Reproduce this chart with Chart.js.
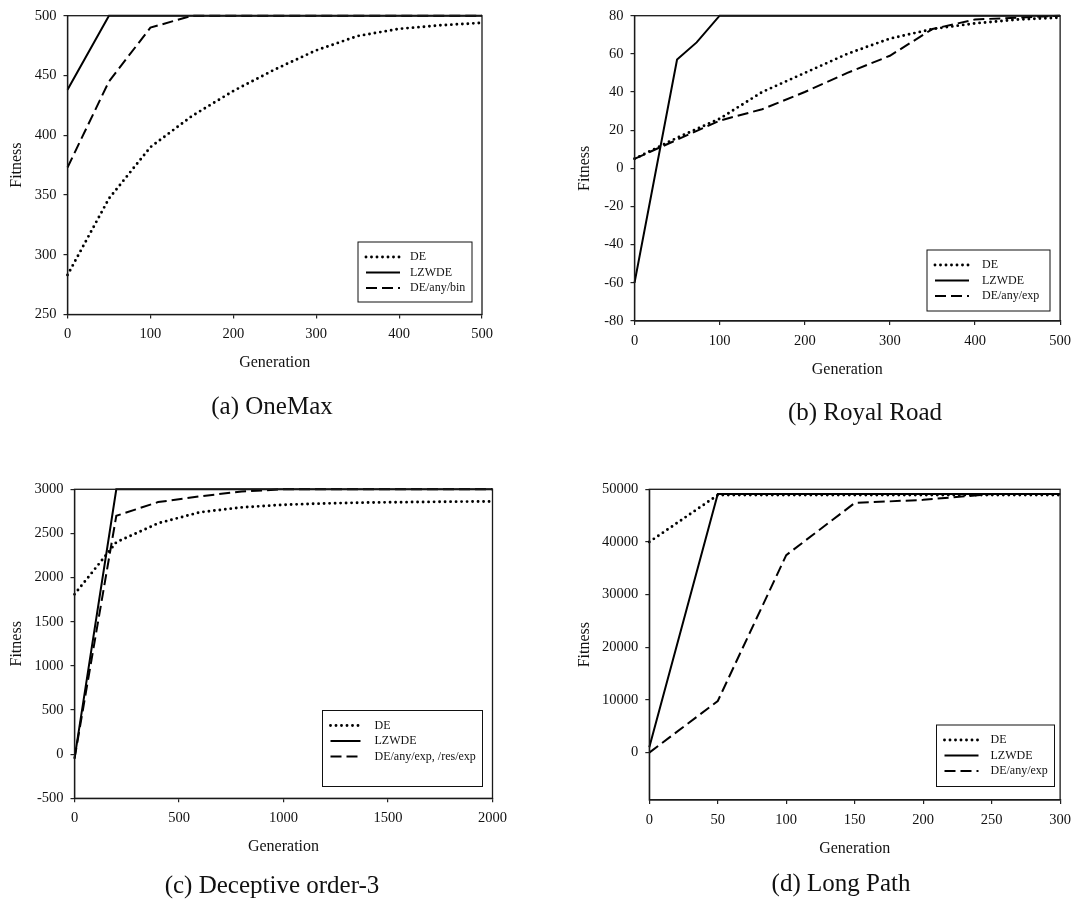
<!DOCTYPE html>
<html>
<head>
<meta charset="utf-8">
<title>Fitness vs Generation</title>
<script src="https://cdn.jsdelivr.net/npm/chart.js@4.4.1/dist/chart.umd.min.js"></script>
<style>
  html, body { margin: 0; padding: 0; background: #fff; }
  #wrap { position: relative; width: 1078px; height: 911px; }
  #wrap canvas { position: absolute; left: 0; top: 0; }
</style>
</head>
<body>
<div id="wrap">
  <canvas id="oneMax" width="1078" height="911"></canvas>
  <canvas id="royalRoad" width="1078" height="911"></canvas>
  <canvas id="deceptive" width="1078" height="911"></canvas>
  <canvas id="longPath" width="1078" height="911"></canvas>
</div>
<script>
// ---- data ----
const oneMaxGen = [0, 50, 100, 150, 200, 250, 300, 350, 400, 450, 500];
const oneMaxDE = [283, 347, 390, 416, 437, 455, 471, 483, 489, 492, 494];
const oneMaxLZWDE = [438, 500, 500, 500, 500, 500, 500, 500, 500, 500, 500];
const oneMaxAnyBin = [373, 445, 490, 500, 500, 500, 500, 500, 500, 500, 500];
const oneMaxXTicks = [0, 100, 200, 300, 400, 500];
const oneMaxYTicks = [250, 300, 350, 400, 450, 500];

const royalGen = [0, 50, 100, 150, 200, 250, 300, 350, 400, 450, 500];
const royalDE = [5, 16, 26, 40, 50, 60, 68, 73, 76, 78, 79];
const royalLZWDEGen = [0, 50, 73, 100, 500];
const royalLZWDE = [-60, 57, 66, 80, 80];
const royalAnyExp = [5, 15, 25, 31, 40, 50, 59, 73, 78, 79, 80];
const royalXTicks = [0, 100, 200, 300, 400, 500];
const royalYTicks = [-80, -60, -40, -20, 0, 20, 40, 60, 80];

const decGen = [0, 200, 400, 600, 800, 1000, 1200, 1400, 1600, 1800, 2000];
const decDE = [1810, 2400, 2615, 2740, 2795, 2825, 2840, 2850, 2855, 2860, 2862];
const decLZWDE = [-50, 3000, 3000, 3000, 3000, 3000, 3000, 3000, 3000, 3000, 3000];
const decAnyExp = [-50, 2700, 2855, 2920, 2975, 3000, 3000, 3000, 3000, 3000, 3000];
const decXTicks = [0, 500, 1000, 1500, 2000];
const decYTicks = [-500, 0, 500, 1000, 1500, 2000, 2500, 3000];

const longGen = [0, 50, 100, 150, 200, 250, 300];
const longDE = [40000, 48900, 48900, 48900, 48900, 48900, 48900];
const longLZWDE = [1000, 49100, 49100, 49100, 49100, 49100, 49100];
const longAnyExp = [0, 9800, 37500, 47400, 48000, 49100, 49100];
const longXTicks = [0, 50, 100, 150, 200, 250, 300];
const longYTicks = [0, 10000, 20000, 30000, 40000, 50000];

const FONT = "'Liberation Serif', 'Times New Roman', serif";
const INK = '#111';

// line styles: dotted, solid, dashed
const lineStyles = [
  { borderDash: [0, 5.5], borderCapStyle: 'round', borderWidth: 2.9 },
  { borderDash: [], borderCapStyle: 'butt', borderWidth: 2 },
  { borderDash: [11, 5], borderCapStyle: 'butt', borderWidth: 2 }
];

const toPoints = (xs, ys) => xs.map((x, i) => ({ x: x, y: ys[i] }));

const panelDecor = {
  id: 'panelDecor',
  afterDraw(chart, args, o) {
    const ctx = chart.ctx;
    const a = chart.chartArea;
    ctx.save();
    ctx.strokeStyle = '#1a1a1a';
    ctx.lineWidth = 1.3;
    ctx.strokeRect(a.left, a.top, a.right - a.left, a.bottom - a.top);

    // legend box
    const lg = o.legend;
    ctx.fillStyle = '#fff';
    ctx.fillRect(lg.left, lg.top, lg.width, lg.height);
    ctx.lineWidth = 1;
    ctx.strokeStyle = '#111';
    ctx.strokeRect(lg.left, lg.top, lg.width, lg.height);
    ctx.font = '12px ' + FONT;
    ctx.textAlign = 'left';
    ctx.textBaseline = 'middle';
    chart.data.datasets.forEach((ds, i) => {
      const y = lg.top + lg.rowTop + i * lg.rowGap;
      ctx.save();
      ctx.setLineDash(ds.borderDash || []);
      ctx.lineCap = ds.borderCapStyle || 'butt';
      ctx.lineWidth = ds.borderWidth;
      ctx.strokeStyle = ds.borderColor;
      ctx.beginPath();
      ctx.moveTo(lg.left + lg.sampleX, y);
      ctx.lineTo(lg.left + lg.sampleX + lg.sampleLen, y);
      ctx.stroke();
      ctx.restore();
      ctx.fillStyle = INK;
      ctx.fillText(ds.label, lg.left + lg.textX, y);
    });

    // axis titles and caption
    ctx.fillStyle = INK;
    ctx.textAlign = 'center';
    ctx.textBaseline = 'middle';
    ctx.font = '16px ' + FONT;
    ctx.fillText('Generation', (a.left + a.right) / 2, a.bottom + o.genGap);
    ctx.save();
    ctx.translate(o.fitnessX, (a.top + a.bottom) / 2);
    ctx.rotate(-Math.PI / 2);
    ctx.fillText('Fitness', 0, 0);
    ctx.restore();
    ctx.font = '25px ' + FONT;
    ctx.fillText(o.caption.text, o.caption.x, o.caption.y);
    ctx.restore();
  }
};

function makePanel(p) {
  const xH = 30;
  const yW = 60;
  const datasets = p.series.map((s, i) => Object.assign({
    label: s.label,
    data: toPoints(s.x, s.y),
    borderColor: '#000',
    backgroundColor: '#000',
    pointRadius: 0,
    fill: false,
    tension: 0,
    clip: false
  }, lineStyles[i]));

  return new Chart(document.getElementById(p.id), {
    type: 'line',
    data: { datasets: datasets },
    options: {
      responsive: false,
      animation: false,
      events: [],
      layout: {
        padding: {
          left: p.plot.l - yW,
          top: p.plot.t,
          right: 1078 - p.plot.r,
          bottom: 911 - p.plot.b - xH
        }
      },
      plugins: {
        legend: { display: false },
        tooltip: { enabled: false },
        panelDecor: {
          legend: p.legend,
          genGap: 48.5,
          fitnessX: p.fitnessX,
          caption: p.caption
        }
      },
      scales: {
        x: {
          type: 'linear',
          min: p.x.min,
          max: p.x.max,
          afterBuildTicks: s => { s.ticks = p.x.ticks.map(v => ({ value: v })); },
          afterFit: s => { s.height = xH; },
          grid: { drawOnChartArea: false, drawTicks: true, tickLength: 4, color: '#222', lineWidth: 1.2 },
          border: { display: true, color: '#222', width: 1.3 },
          ticks: {
            autoSkip: false, maxRotation: 0, padding: 7,
            color: INK, font: { family: FONT, size: 14.5 },
            callback: v => String(v)
          }
        },
        y: {
          type: 'linear',
          min: p.y.min,
          max: p.y.max,
          afterBuildTicks: s => { s.ticks = p.y.ticks.map(v => ({ value: v })); },
          afterFit: s => { s.width = yW; },
          grid: { drawOnChartArea: false, drawTicks: true, tickLength: 4, color: '#222', lineWidth: 1.2 },
          border: { display: true, color: '#222', width: 1.3 },
          ticks: {
            autoSkip: false, padding: 7,
            color: INK, font: { family: FONT, size: 14.5 },
            callback: v => String(v)
          }
        }
      }
    },
    plugins: [panelDecor]
  });
}

const legendRows = { rowTop: 15, rowGap: 15.5 };

makePanel({
  id: 'oneMax',
  plot: { l: 67.5, t: 15, r: 482, b: 314.5 },
  x: { min: 0, max: 500, ticks: oneMaxXTicks },
  y: { min: 250, max: 500, ticks: oneMaxYTicks },
  series: [
    { label: 'DE', x: oneMaxGen, y: oneMaxDE },
    { label: 'LZWDE', x: oneMaxGen, y: oneMaxLZWDE },
    { label: 'DE/any/bin', x: oneMaxGen, y: oneMaxAnyBin }
  ],
  legend: Object.assign({ left: 358, top: 242, width: 114, height: 60, sampleX: 8, sampleLen: 34, textX: 52 }, legendRows),
  fitnessX: 17,
  caption: { text: '(a) OneMax', x: 272, y: 407 }
});

makePanel({
  id: 'royalRoad',
  plot: { l: 634.5, t: 15, r: 1061, b: 321 },
  x: { min: 0, max: 500, ticks: royalXTicks },
  y: { min: -80, max: 80, ticks: royalYTicks },
  series: [
    { label: 'DE', x: royalGen, y: royalDE },
    { label: 'LZWDE', x: royalLZWDEGen, y: royalLZWDE },
    { label: 'DE/any/exp', x: royalGen, y: royalAnyExp }
  ],
  legend: Object.assign({ left: 927, top: 250, width: 123, height: 61, sampleX: 8, sampleLen: 34, textX: 55 }, legendRows),
  fitnessX: 585,
  caption: { text: '(b) Royal Road', x: 865, y: 413 }
});

makePanel({
  id: 'deceptive',
  plot: { l: 74.5, t: 489.3, r: 492.5, b: 798.3 },
  x: { min: 0, max: 2000, ticks: decXTicks },
  y: { min: -500, max: 3000, ticks: decYTicks },
  series: [
    { label: 'DE', x: decGen, y: decDE },
    { label: 'LZWDE', x: decGen, y: decLZWDE },
    { label: 'DE/any/exp, /res/exp', x: decGen, y: decAnyExp }
  ],
  legend: Object.assign({ left: 322.5, top: 710.5, width: 160, height: 76, sampleX: 8, sampleLen: 30, textX: 52 }, legendRows),
  fitnessX: 17,
  caption: { text: '(c) Deceptive order-3', x: 272, y: 886 }
});

makePanel({
  id: 'longPath',
  plot: { l: 649.3, t: 489.3, r: 1067, b: 800 },
  x: { min: 0, max: 300, ticks: longXTicks },
  y: { min: -9000, max: 50000, ticks: longYTicks },
  series: [
    { label: 'DE', x: longGen, y: longDE },
    { label: 'LZWDE', x: longGen, y: longLZWDE },
    { label: 'DE/any/exp', x: longGen, y: longAnyExp }
  ],
  legend: Object.assign({ left: 936.5, top: 725, width: 118, height: 61.5, sampleX: 8, sampleLen: 34, textX: 54 }, legendRows),
  fitnessX: 585,
  caption: { text: '(d) Long Path', x: 841, y: 884 }
});
</script>
</body>
</html>
